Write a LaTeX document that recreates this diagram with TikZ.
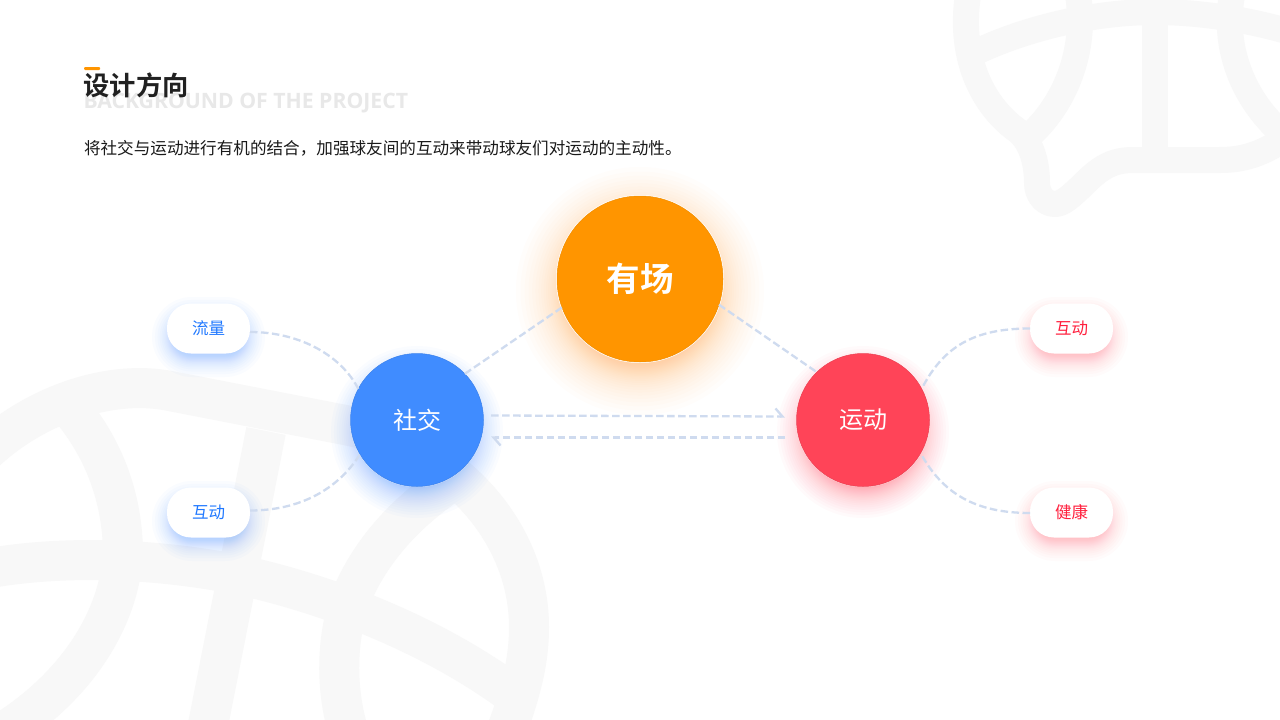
\documentclass[tikz,border=0pt]{standalone}
\usepackage{fontspec}
\usetikzlibrary{arrows.meta}
\newfontfamily\cjk[BoldFont=Noto Sans CJK SC Bold]{Noto Sans CJK SC}
\newfontfamily\lat{Open Sans}
\definecolor{bgball}{HTML}{F8F8F8}
\definecolor{linec}{HTML}{CFDBEF}
\definecolor{orangec}{HTML}{FF9500}
\definecolor{bluec}{HTML}{408CFF}
\definecolor{redc}{HTML}{FF4458}
\definecolor{pillblue}{HTML}{1F78FF}
\definecolor{pillred}{HTML}{FF1F3D}
\newcommand{\glowc}[6]{%
  \foreach \i in {0,...,39}{%
    \pgfmathsetmacro\tt{1-2*\i/39}%
    \pgfmathsetmacro\rr{#3+#4*(0.5*\tt+0.5*\tt*\tt*\tt)}%
    \fill[#5,opacity=#6] (#1,#2) circle[radius=\rr pt];}}
\newcommand{\glowp}[5]{%
  \foreach \i in {0,...,23}{%
    \pgfmathsetmacro\tt{1-2*\i/23}%
    \pgfmathsetmacro\dd{-3+#3*(0.5*\tt+0.5*\tt*\tt*\tt)}%
    \pgfmathsetmacro\rc{max(24.9+\dd,0.5)}%
    \fill[#4,opacity=#5,rounded corners=\rc pt] ({#1-41.5-\dd},{#2-25-\dd}) rectangle ({#1+41.5+\dd},{#2+25+\dd});}}
\tikzset{
  ballfine/.style={draw=bgball,line width=26pt,line join=round},
  ballbold/.style={draw=bgball,line width=40pt,line join=round},
  disc/.style={circle,inner sep=0pt,outer sep=0pt,text=white,line width=0.5pt},
  pill/.style={rectangle,rounded corners=24pt,fill=white,minimum width=83pt,minimum height=50pt,inner sep=0pt,outer sep=0pt,font=\cjk\fontsize{16.5}{16.5}\selectfont},
  conn/.style={draw=linec,line width=2.3pt,dash pattern=on 7.5pt off 3.5pt},
  label/.style={inner sep=0pt,outer sep=0pt,anchor=west}
}
\begin{document}
\begin{tikzpicture}[x=1pt,y=-1pt]
\useasboundingbox (0,0) rectangle (1280,720);
\fill[white] (0,0) rectangle (1280,720);
\begin{scope}
\clip (0,0) rectangle (1280,720);
% top right ball
\draw[ballfine] (968,-5) .. controls (958,60) and (985,108) .. (1018,131) .. controls (1030,141) and (1037,160) .. (1037,183) .. controls (1037,195) and (1045,204) .. (1055,204) .. controls (1068,204) and (1085,180) .. (1100,170) .. controls (1110,163) and (1120,160) .. (1133,160) -- (1220,160) .. controls (1245,160) and (1265,153) .. (1290,135);
\draw[ballfine] (1078,-5) .. controls (1087,50) and (1065,105) .. (1028,137);
\draw[ballfine] (970,55) .. controls (1020,30) and (1090,12) .. (1155,12) .. controls (1200,12) and (1250,20) .. (1290,32);
\draw[ballfine] (1155,12) -- (1155,160);
\draw[ballfine] (1232,-5) .. controls (1222,50) and (1245,105) .. (1290,140);
% bottom left ball
\draw[ballbold] (-15,452) .. controls (35,405) and (110,379) .. (170,391) -- (345,425) .. controls (450,445) and (529,530) .. (529,627) .. controls (529,660) and (522,695) .. (495,760);
\draw[ballbold] (70,408) .. controls (105,450) and (123,500) .. (123,555) .. controls (118,625) and (70,695) .. (-10,740);
\draw[ballbold] (-10,568) .. controls (60,556) and (150,557) .. (240,575) .. controls (340,597) and (440,640) .. (514,695);
\draw[ballbold] (266,431) -- (208,725);
\draw[ballbold] (348,730) .. controls (336,690) and (336,640) .. (350,600) .. controls (370,550) and (410,505) .. (470,470);
\end{scope}
% glows
\glowc{640}{291}{78}{46}{orangec}{0.016}
\glowc{417}{432}{56}{30}{bluec}{0.025}
\glowc{863}{432}{56}{30}{redc}{0.025}
\glowp{208.5}{337}{18}{bluec}{0.025}
\glowp{208.5}{521}{18}{bluec}{0.025}
\glowp{1071.5}{337}{18}{redc}{0.018}
\glowp{1071.5}{521}{18}{redc}{0.018}
\fill[white] (640,279) circle[radius=84pt];
\fill[white] (417,420) circle[radius=67pt];
\fill[white] (863,420) circle[radius=67pt];
% discs
\node[disc,minimum size=166pt,fill=orangec,draw=orangec!95!black,font=\cjk\bfseries\fontsize{33.5}{33.5}\selectfont] (you) at (640,279) {有场};
\node[disc,minimum size=133pt,fill=bluec,draw=bluec!92!black,font=\cjk\fontsize{24}{24}\selectfont] (she) at (417,420) {社交};
\node[disc,minimum size=133pt,fill=redc,draw=redc!92!black,font=\cjk\fontsize{24}{24}\selectfont] (yun) at (863,420) {运动};
% pills
\node[pill,text=pillblue] (liu) at (208.5,328.5) {流量};
\node[pill,text=pillblue] (hu) at (208.5,512.5) {互动};
\node[pill,text=pillred] (hur) at (1071.5,328.5) {互动};
\node[pill,text=pillred] (jian) at (1071.5,512.5) {健康};
% connectors
\draw[conn] ([yshift=-3.5pt]liu.east) .. controls +(50,0) and +(-17,-33) .. (she.152);
\draw[conn] ([yshift=2pt]hu.east) .. controls +(50,0) and +(-22,35) .. (she.-149);
\draw[conn] (she.44) -- (you.200);
\draw[conn] (you.-18) -- (yun.134);
\draw[conn] (hur.west) .. controls +(-55,0) and +(22,-43) .. (yun.28);
\draw[conn] ([yshift=-0.5pt]jian.west) .. controls +(-55,0) and +(22,40) .. (yun.-30);
\draw[conn,-{Straight Barb[left,length=7pt,width=16pt,line width=2.3pt]}] ([xshift=7.5pt,yshift=4.5pt]she.east) -- ([xshift=-11.5pt,yshift=3.5pt]yun.west);
\draw[conn,-{Straight Barb[left,length=7pt,width=16pt,line width=2.3pt]}] ([xshift=-11.5pt,yshift=-17.5pt]yun.west) -- ([xshift=7.5pt,yshift=-17.5pt]she.east);
% header
\node[label,text=black!9,font=\lat\bfseries\fontsize{21.2}{21.2}\selectfont] (en) at (83.5,103) {BACKGROUND OF THE PROJECT};
\node[label,text=black!87,font=\cjk\bfseries\fontsize{26.3}{26.3}\selectfont] (title) at (83.5,85.5) {设计方向};
\node[label,text=black!90,font=\cjk\fontsize{16.6}{16.6}\selectfont] (sub) at (84,148) {将社交与运动进行有机的结合，加强球友间的互动来带动球友们对运动的主动性。};
\fill[orangec,rounded corners=1pt] (84,67) rectangle (100,70);
\end{tikzpicture}
\end{document}
